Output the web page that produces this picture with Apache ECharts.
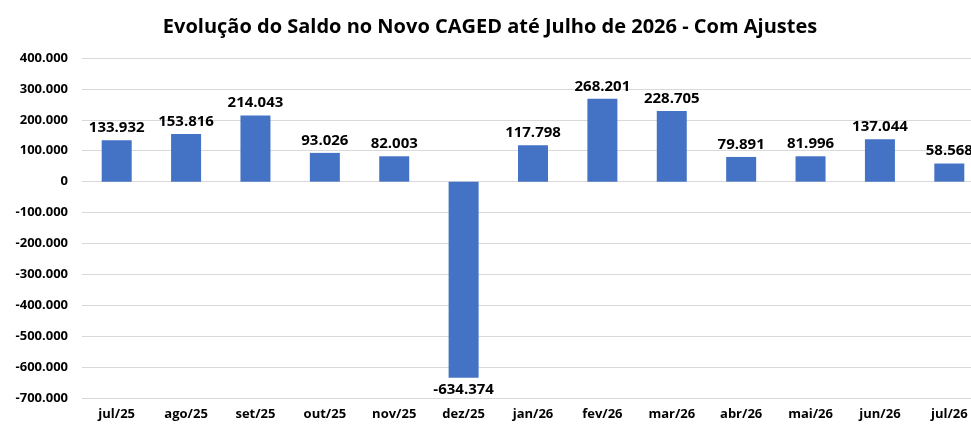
<!DOCTYPE html>
<html>
<head>
<meta charset="utf-8">
<script src="https://cdn.jsdelivr.net/npm/echarts@6/dist/echarts.min.js"></script>
</head>
<body style="margin:0;overflow:hidden;background:#fff">
<div id="chart" style="width:984px;height:439px"></div>
<script>
var categories = ['jul/25','ago/25','set/25','out/25','nov/25','dez/25','jan/26','fev/26','mar/26','abr/26','mai/26','jun/26','jul/26'];
var saldo = [133932, 153816, 214043, 93026, 82003, -634374, 117798, 268201, 228705, 79891, 81996, 137044, 58568];

function fmt(v) {
  var s = Math.abs(v).toString().replace(/\B(?=(\d{3})+(?!\d))/g, '.');
  return (v < 0 ? '-' : '') + s;
}

// negative bar label goes below the bar
var barData = saldo.map(function (v) {
  return v < 0 ? { value: v, label: { position: 'bottom' } } : v;
});

var chart = echarts.init(document.getElementById('chart'));
chart.setOption({
  animation: false,
  textStyle: { fontFamily: 'Open Sans' },
  title: {
    text: 'Evolução do Saldo no Novo CAGED até Julho de 2026 - Com Ajustes',
    left: 485, textAlign: 'center', top: 12,
    textStyle: { fontSize: 20, fontWeight: 'bold', color: '#000' }
  },
  grid: { left: 82, right: 0, top: 58, bottom: 41, outerBoundsMode: 'none', containLabel: false },
  xAxis: {
    type: 'category', data: categories,
    axisTick: { show: false },
    axisLine: { show: false, onZero: false },
    axisLabel: { color: '#000', fontWeight: 'bold', fontSize: 13, margin: 10 }
  },
  yAxis: {
    type: 'value', min: -700000, max: 400000, interval: 100000,
    axisLabel: { color: '#000', fontWeight: 'bold', fontSize: 13, formatter: fmt, margin: 14 },
    splitLine: { lineStyle: { color: '#d9d9d9' } }
  },
  series: [{
    type: 'bar', data: barData, barWidth: 30,
    itemStyle: { color: '#4472C4' },
    label: {
      show: true, position: 'top', color: '#000', fontWeight: 'bold', fontSize: 15,
      formatter: function (p) { return fmt(p.value); }
    }
  }]
});
</script>
</body>
</html>
